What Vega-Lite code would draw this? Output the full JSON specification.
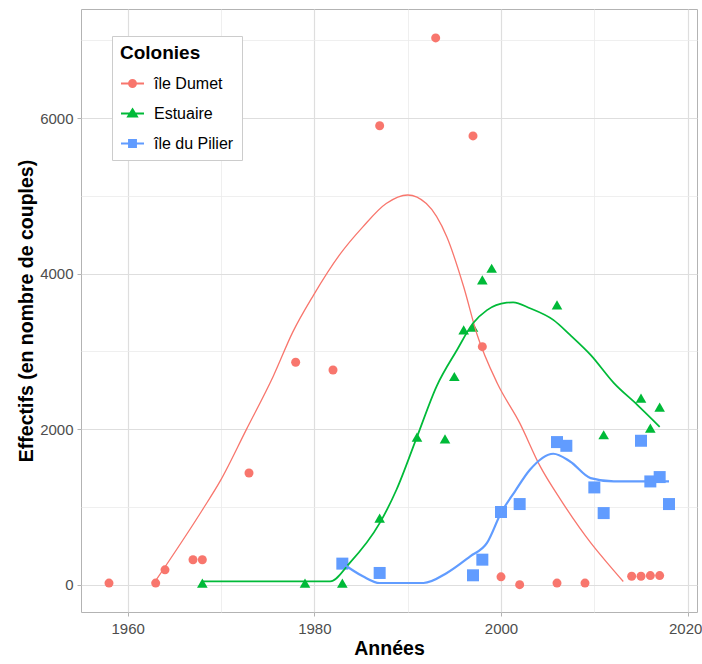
{
  "$schema": "https://vega.github.io/schema/vega-lite/v6.json",
  "width": 616,
  "height": 603,
  "autosize": {"type": "none"},
  "padding": {"left": 81, "top": 9, "right": 5, "bottom": 52},
  "background": "white",
  "config": {
    "font": "Liberation Sans",
    "view": {"stroke": "#B3B3B3", "strokeWidth": 1},
    "axis": {
      "domain": false,
      "labelColor": "#4D4D4D",
      "labelFontSize": 15,
      "tickColor": "#B3B3B3",
      "tickSize": 4,
      "gridColor": "#DEDEDE",
      "gridWidth": 1.2,
      "titleFontSize": 19.5,
      "titleFontWeight": "bold",
      "titleColor": "black"
    }
  },
  "datasets": {
    "obs": [
      {"annee": 1958, "effectif": 20, "colonie": "île Dumet"},
      {"annee": 1963, "effectif": 20, "colonie": "île Dumet"},
      {"annee": 1964, "effectif": 190, "colonie": "île Dumet"},
      {"annee": 1967, "effectif": 320, "colonie": "île Dumet"},
      {"annee": 1968, "effectif": 320, "colonie": "île Dumet"},
      {"annee": 1973, "effectif": 1435, "colonie": "île Dumet"},
      {"annee": 1978, "effectif": 2860, "colonie": "île Dumet"},
      {"annee": 1982, "effectif": 2760, "colonie": "île Dumet"},
      {"annee": 1987, "effectif": 5900, "colonie": "île Dumet"},
      {"annee": 1993, "effectif": 7030, "colonie": "île Dumet"},
      {"annee": 1997, "effectif": 5770, "colonie": "île Dumet"},
      {"annee": 1998, "effectif": 3060, "colonie": "île Dumet"},
      {"annee": 2000, "effectif": 100, "colonie": "île Dumet"},
      {"annee": 2002, "effectif": 0, "colonie": "île Dumet"},
      {"annee": 2006, "effectif": 20, "colonie": "île Dumet"},
      {"annee": 2009, "effectif": 20, "colonie": "île Dumet"},
      {"annee": 2014, "effectif": 107, "colonie": "île Dumet"},
      {"annee": 2015, "effectif": 107, "colonie": "île Dumet"},
      {"annee": 2016, "effectif": 116, "colonie": "île Dumet"},
      {"annee": 2017, "effectif": 116, "colonie": "île Dumet"},
      {"annee": 1968, "effectif": 20, "colonie": "Estuaire"},
      {"annee": 1979, "effectif": 20, "colonie": "Estuaire"},
      {"annee": 1983, "effectif": 20, "colonie": "Estuaire"},
      {"annee": 1987, "effectif": 856, "colonie": "Estuaire"},
      {"annee": 1991, "effectif": 1897, "colonie": "Estuaire"},
      {"annee": 1994, "effectif": 1875, "colonie": "Estuaire"},
      {"annee": 1995, "effectif": 2676, "colonie": "Estuaire"},
      {"annee": 1996, "effectif": 3276, "colonie": "Estuaire"},
      {"annee": 1997, "effectif": 3310, "colonie": "Estuaire"},
      {"annee": 1998, "effectif": 3918, "colonie": "Estuaire"},
      {"annee": 1999, "effectif": 4068, "colonie": "Estuaire"},
      {"annee": 2006, "effectif": 3597, "colonie": "Estuaire"},
      {"annee": 2011, "effectif": 1927, "colonie": "Estuaire"},
      {"annee": 2015, "effectif": 2398, "colonie": "Estuaire"},
      {"annee": 2016, "effectif": 2013, "colonie": "Estuaire"},
      {"annee": 2017, "effectif": 2283, "colonie": "Estuaire"},
      {"annee": 1983, "effectif": 270, "colonie": "île du Pilier"},
      {"annee": 1987, "effectif": 150, "colonie": "île du Pilier"},
      {"annee": 1997, "effectif": 120, "colonie": "île du Pilier"},
      {"annee": 1998, "effectif": 321, "colonie": "île du Pilier"},
      {"annee": 2000, "effectif": 934, "colonie": "île du Pilier"},
      {"annee": 2002, "effectif": 1036, "colonie": "île du Pilier"},
      {"annee": 2006, "effectif": 1833, "colonie": "île du Pilier"},
      {"annee": 2007, "effectif": 1785, "colonie": "île du Pilier"},
      {"annee": 2010, "effectif": 1250, "colonie": "île du Pilier"},
      {"annee": 2011, "effectif": 920, "colonie": "île du Pilier"},
      {"annee": 2015, "effectif": 1850, "colonie": "île du Pilier"},
      {"annee": 2016, "effectif": 1327, "colonie": "île du Pilier"},
      {"annee": 2017, "effectif": 1383, "colonie": "île du Pilier"},
      {"annee": 2018, "effectif": 1036, "colonie": "île du Pilier"}
    ],
    "lissage": [
      {"annee": 1963, "effectif": 50, "colonie": "île Dumet"},
      {"annee": 1968, "effectif": 960, "colonie": "île Dumet"},
      {"annee": 1970, "effectif": 1350, "colonie": "île Dumet"},
      {"annee": 1972.7, "effectif": 1990, "colonie": "île Dumet"},
      {"annee": 1975.6, "effectif": 2680, "colonie": "île Dumet"},
      {"annee": 1977.7, "effectif": 3250, "colonie": "île Dumet"},
      {"annee": 1979.9, "effectif": 3720, "colonie": "île Dumet"},
      {"annee": 1982.7, "effectif": 4240, "colonie": "île Dumet"},
      {"annee": 1985.2, "effectif": 4600, "colonie": "île Dumet"},
      {"annee": 1987.7, "effectif": 4900, "colonie": "île Dumet"},
      {"annee": 1990, "effectif": 5010, "colonie": "île Dumet"},
      {"annee": 1992, "effectif": 4900, "colonie": "île Dumet"},
      {"annee": 1994.2, "effectif": 4470, "colonie": "île Dumet"},
      {"annee": 1996, "effectif": 3830, "colonie": "île Dumet"},
      {"annee": 1997.4, "effectif": 3230, "colonie": "île Dumet"},
      {"annee": 1999.6, "effectif": 2590, "colonie": "île Dumet"},
      {"annee": 2002, "effectif": 2080, "colonie": "île Dumet"},
      {"annee": 2004.2, "effectif": 1520, "colonie": "île Dumet"},
      {"annee": 2006.4, "effectif": 1090, "colonie": "île Dumet"},
      {"annee": 2009.6, "effectif": 540, "colonie": "île Dumet"},
      {"annee": 2011.7, "effectif": 235, "colonie": "île Dumet"},
      {"annee": 2013.1, "effectif": 40, "colonie": "île Dumet"},
      {"annee": 1968, "effectif": 42, "colonie": "Estuaire"},
      {"annee": 1981.7, "effectif": 42, "colonie": "Estuaire"},
      {"annee": 1983.8, "effectif": 280, "colonie": "Estuaire"},
      {"annee": 1987, "effectif": 790, "colonie": "Estuaire"},
      {"annee": 1988.8, "effectif": 1220, "colonie": "Estuaire"},
      {"annee": 1991, "effectif": 1900, "colonie": "Estuaire"},
      {"annee": 1993.1, "effectif": 2550, "colonie": "Estuaire"},
      {"annee": 1995.3, "effectif": 3020, "colonie": "Estuaire"},
      {"annee": 1997, "effectif": 3360, "colonie": "Estuaire"},
      {"annee": 1998.5, "effectif": 3530, "colonie": "Estuaire"},
      {"annee": 2000.6, "effectif": 3625, "colonie": "Estuaire"},
      {"annee": 2001.3, "effectif": 3630, "colonie": "Estuaire"},
      {"annee": 2003.1, "effectif": 3554, "colonie": "Estuaire"},
      {"annee": 2005.6, "effectif": 3404, "colonie": "Estuaire"},
      {"annee": 2007.4, "effectif": 3211, "colonie": "Estuaire"},
      {"annee": 2009.6, "effectif": 2954, "colonie": "Estuaire"},
      {"annee": 2012.1, "effectif": 2591, "colonie": "Estuaire"},
      {"annee": 2014.6, "effectif": 2312, "colonie": "Estuaire"},
      {"annee": 2017, "effectif": 2030, "colonie": "Estuaire"},
      {"annee": 1983, "effectif": 275, "colonie": "île du Pilier"},
      {"annee": 1985.2, "effectif": 107, "colonie": "île du Pilier"},
      {"annee": 1987, "effectif": 21, "colonie": "île du Pilier"},
      {"annee": 1991.7, "effectif": 21, "colonie": "île du Pilier"},
      {"annee": 1994.2, "effectif": 150, "colonie": "île du Pilier"},
      {"annee": 1996.7, "effectif": 364, "colonie": "île du Pilier"},
      {"annee": 1998.5, "effectif": 536, "colonie": "île du Pilier"},
      {"annee": 2000, "effectif": 921, "colonie": "île du Pilier"},
      {"annee": 2001.5, "effectif": 1200, "colonie": "île du Pilier"},
      {"annee": 2003.1, "effectif": 1477, "colonie": "île du Pilier"},
      {"annee": 2005.6, "effectif": 1683, "colonie": "île du Pilier"},
      {"annee": 2007.4, "effectif": 1584, "colonie": "île du Pilier"},
      {"annee": 2009.6, "effectif": 1370, "colonie": "île du Pilier"},
      {"annee": 2012.1, "effectif": 1327, "colonie": "île du Pilier"},
      {"annee": 2015.7, "effectif": 1327, "colonie": "île du Pilier"},
      {"annee": 2018, "effectif": 1327, "colonie": "île du Pilier"}
    ]
  },
  "resolve": {"axis": {"x": "independent", "y": "independent"}, "legend": {"color": "independent"}},
  "layer": [
    {
      "data": {"name": "obs"},
      "mark": {"type": "point", "filled": true, "opacity": 1},
      "encoding": {
        "x": {
          "field": "annee", "type": "quantitative",
          "scale": {"domain": [1955, 2021], "nice": false, "zero": false},
          "axis": {"title": "Années", "values": [1960, 1980, 2000, 2020], "format": "d", "labelPadding": 5, "titlePadding": 3,
            "labelOffset": {"condition": {"test": "datum.value === 2020", "value": -2.5}, "value": 0}}
        },
        "y": {
          "field": "effectif", "type": "quantitative",
          "scale": {"domain": [-352, 7402], "nice": false, "zero": false},
          "axis": {"title": "Effectifs (en nombre de couples)", "values": [0, 2000, 4000, 6000], "format": "d", "labelPadding": 4, "titlePadding": 3}
        },
        "color": {
          "field": "colonie", "type": "nominal",
          "scale": {"domain": ["île Dumet", "Estuaire", "île du Pilier"], "range": ["#F8766D", "#00BA38", "#619CFF"]},
          "legend": null
        },
        "shape": {
          "field": "colonie", "type": "nominal",
          "scale": {"domain": ["île Dumet", "Estuaire", "île du Pilier"], "range": ["circle", "triangle-up", "square"]},
          "legend": null
        },
        "size": {
          "field": "colonie", "type": "nominal",
          "scale": {"domain": ["île Dumet", "Estuaire", "île du Pilier"], "range": [81, 144, 100]},
          "legend": null
        }
      }
    },
    {
      "data": {"name": "lissage"},
      "mark": {"type": "line", "interpolate": "monotone"},
      "encoding": {
        "x": {
          "field": "annee", "type": "quantitative",
          "axis": {"orient": "top", "values": [1970, 1990, 2010], "grid": true, "gridColor": "#EBEBEB", "gridWidth": 0.8, "labels": false, "ticks": false, "domain": false, "title": null}
        },
        "y": {
          "field": "effectif", "type": "quantitative",
          "axis": {"orient": "right", "values": [1000, 3000, 5000, 7000], "grid": true, "gridColor": "#EBEBEB", "gridWidth": 0.8, "labels": false, "ticks": false, "domain": false, "title": null}
        },
        "color": {
          "field": "colonie", "type": "nominal",
          "legend": {
            "title": "Colonies",
            "orient": "none", "legendX": 31, "legendY": 27,
            "padding": 8,
            "strokeColor": "#CCCCCC", "fillColor": "white",
            "titleFontSize": 19, "titleFontWeight": "bold", "titleColor": "black", "titlePadding": 8,
            "labelFontSize": 16, "labelColor": "black", "labelOffset": 9,
            "symbolType": "M-1,0H1",
            "symbolSize": 529, "rowPadding": 9, "symbolStrokeWidth": 2,
            "encode": {
              "symbols": {
                "update": {
                  "shape": {"signal": "datum.value === 'île Dumet' ? 'M-1,0H1M0.3,0A0.3,0.3 0 1,1 -0.3,0A0.3,0.3 0 1,1 0.3,0Z' : datum.value === 'Estuaire' ? 'M-1,0H1M0,-0.36L0.38,0.27L-0.38,0.27Z' : 'M-1,0H1M-0.3,-0.3H0.3V0.3H-0.3Z'"},
                  "size": {"value": 529},
                  "fill": {"signal": "scale('color', datum.value)"},
                  "stroke": {"signal": "scale('color', datum.value)"},
                  "strokeWidth": {"value": 2},
                  "opacity": {"value": 1}
                }
              }
            }
          }
        },
        "strokeWidth": {
          "field": "colonie", "type": "nominal",
          "scale": {"domain": ["île Dumet", "Estuaire", "île du Pilier"], "range": [1.3, 2.2, 1.9]},
          "legend": null
        }
      }
    }
  ]
}
